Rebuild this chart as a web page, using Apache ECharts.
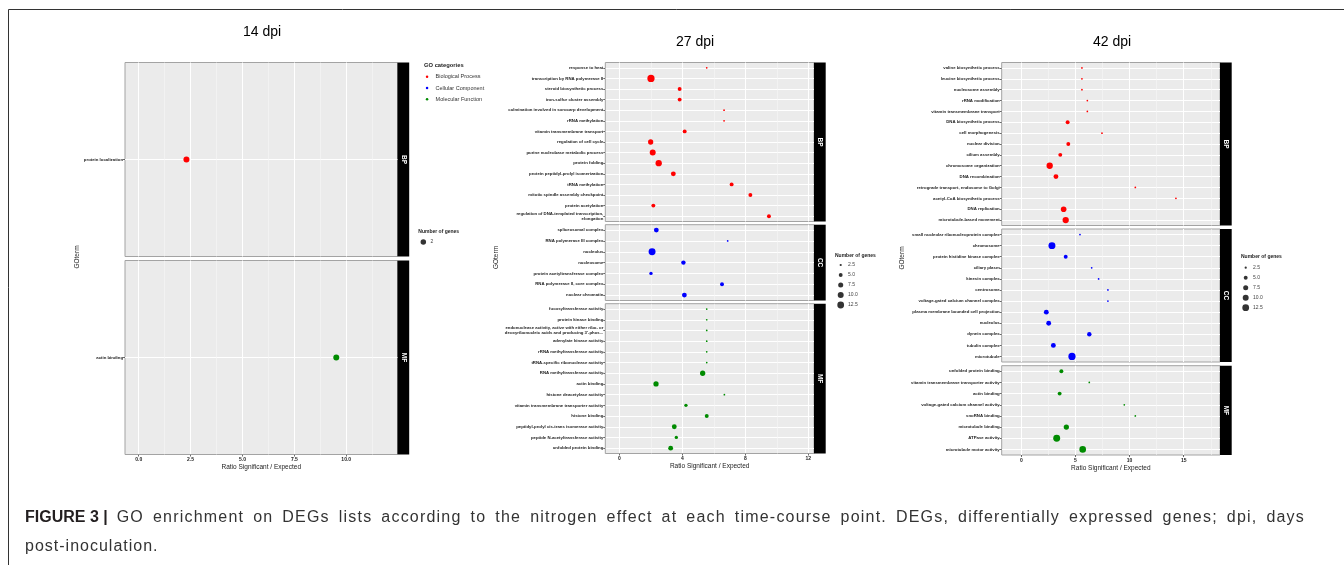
<!DOCTYPE html>
<html><head><meta charset="utf-8">
<script src="https://cdn.jsdelivr.net/npm/echarts@6/dist/echarts.min.js"></script>
<style>
html,body{margin:0;padding:0;background:#fff}
#wrap{position:relative;width:1344px;height:565px;overflow:hidden}
#c{position:absolute;left:0;top:0;width:1344px;height:565px}
.cap{position:absolute;left:25px;font-family:'Liberation Sans',Arial,Helvetica,sans-serif;font-size:16px;color:#333;white-space:nowrap;letter-spacing:1.2px}
.cap b{color:#231F20;letter-spacing:0;display:inline-block}
#cap1{top:508px;width:1280px;text-align:justify;text-align-last:justify;white-space:normal}
#cap2{top:536.5px;letter-spacing:1px}
</style>
</head><body><div id="wrap"><div id="c"></div><div class="cap" id="cap1"></div><div class="cap" id="cap2"></div></div>
<script>
// ---------------- DATA ----------------
// 14 dpi
const d14BpTerms = ['protein localization'];
const d14BpRatio = [2.3];
const d14BpGenes = [2];
const d14MfTerms = ['actin binding'];
const d14MfRatio = [9.52];
const d14MfGenes = [2];
// 27 dpi
const d27BpTerms = ['response to heat','transcription by RNA polymerase II','steroid biosynthetic process','iron-sulfur cluster assembly','culmination involved in sorocarp development','rRNA methylation','vitamin transmembrane transport','regulation of cell cycle','purine nucleobase metabolic process','protein folding','protein peptidyl-prolyl isomerization','tRNA methylation','mitotic spindle assembly checkpoint','protein acetylation','regulation of DNA-templated transcription,\nelongation'];
const d27BpRatio = [5.55, 2.01, 3.83, 3.83, 6.65, 6.65, 4.15, 1.99, 2.12, 2.5, 3.43, 7.13, 8.32, 2.16, 9.5];
const d27BpGenes = [2, 14, 5, 5, 2, 2, 5, 8, 10, 11, 7, 5, 5, 5, 5];
const d27CcTerms = ['spliceosomal complex','RNA polymerase III complex','nucleolus','nucleosome','protein acetyltransferase complex','RNA polymerase II, core complex','nuclear chromatin'];
const d27CcRatio = [2.35, 6.88, 2.08, 4.07, 2.01, 6.52, 4.13];
const d27CcGenes = [7, 2, 13, 6, 4, 5, 7];
const d27MfTerms = ['fucosyltransferase activity','protein kinase binding',"endonuclease activity, active with either ribo- or\ndeoxyribonucleic acids and producing 3'-phos...",'adenylate kinase activity','rRNA methyltransferase activity','tRNA-specific ribonuclease activity','RNA methyltransferase activity','actin binding','histone deacetylase activity','vitamin transmembrane transporter activity','histone binding','peptidyl-prolyl cis-trans isomerase activity','peptide N-acetyltransferase activity','unfolded protein binding'];
const d27MfRatio = [5.55, 5.55, 5.55, 5.55, 5.55, 5.55, 5.29, 2.33, 6.67, 4.23, 5.55, 3.49, 3.62, 3.26];
const d27MfGenes = [2, 2, 2, 2, 2, 2, 8, 8, 2, 4, 5, 7, 4, 7];
// 42 dpi
const d42BpTerms = ['valine biosynthetic process','leucine biosynthetic process','nucleosome assembly','rRNA modification','vitamin transmembrane transport','DNA biosynthetic process','cell morphogenesis','nuclear division','cilium assembly','chromosome organization','DNA recombination','retrograde transport, endosome to Golgi','acetyl-CoA biosynthetic process','DNA replication','microtubule-based movement'];
const d42BpRatio = [5.6, 5.6, 5.6, 6.1, 6.1, 4.28, 7.45, 4.34, 3.6, 2.62, 3.2, 10.53, 14.28, 3.91, 4.1];
const d42BpGenes = [2, 2, 2, 2, 2, 5, 2, 5, 5, 11, 7, 2, 2, 9, 11];
const d42CcTerms = ['small nucleolar ribonucleoprotein complex','chromosome','protein histidine kinase complex','ciliary plasm','kinesin complex','centrosome','voltage-gated calcium channel complex','plasma membrane bounded cell projection','nucleolus','dynein complex','tubulin complex','microtubule'];
const d42CcRatio = [5.42, 2.83, 4.1, 6.5, 7.14, 8.0, 8.0, 2.31, 2.53, 6.28, 2.96, 4.68];
const d42CcGenes = [2, 13, 5, 2, 2, 2, 2, 7, 7, 6, 7, 14];
const d42MfTerms = ['unfolded protein binding','vitamin transmembrane transporter activity','actin binding','voltage-gated calcium channel activity','snoRNA binding','microtubule binding','ATPase activity','microtubule motor activity'];
const d42MfRatio = [3.7, 6.28, 3.54, 9.51, 10.53, 4.16, 3.27, 5.67];
const d42MfGenes = [5, 2, 5, 2, 2, 8, 13, 12];
// ticks
const ticks14 = [0, 2.5, 5, 7.5, 10];
const tickLabels14 = ['0.0', '2.5', '5.0', '7.5', '10.0'];
const minor14 = [1.25, 3.75, 6.25, 8.75, 11.25];
const ticks27 = [0, 4, 8, 12];
const tickLabels27 = ['0', '4', '8', '12'];
const minor27 = [2, 6, 10];
const ticks42 = [0, 5, 10, 15];
const tickLabels42 = ['0', '5', '10', '15'];
const minor42 = [2.5, 7.5, 12.5, 17.5];
// legends
const goCategories = ['Biological Process', 'Cellular Component', 'Molecular Function'];
const sizeLegend14 = [2];
const sizeLegendLabels14 = ['2'];
const sizeLegend = [2.5, 5, 7.5, 10, 12.5];
const sizeLegendLabels = ['2.5', '5.0', '7.5', '10.0', '12.5'];
const panelTitles = ['14 dpi', '27 dpi', '42 dpi'];
const xTitle = 'Ratio Significant / Expected';
const yTitle = 'GOterm';
const captionBold = 'FIGURE 3 |';
const captionLine1 = 'GO enrichment on DEGs lists according to the nitrogen effect at each time-course point. DEGs, differentially expressed genes; dpi, days';
const captionLine2 = 'post-inoculation.';

// ---------------- LAYOUT ----------------
const FONT = "'Liberation Sans', Arial, Helvetica, sans-serif";
const COLORS = {BP: '#FF0000', CC: '#0000FF', MF: '#008B00'};
const CATNAME = {BP: 'Biological Process', CC: 'Cellular Component', MF: 'Molecular Function'};
const sizeFn = n => Math.sqrt(Math.max(4.1 * n - 5.2, 2));
const panels = [
  {left: 125, right: 397.5, min: -0.66, max: 12.47, ticks: ticks14, labels: tickLabels14, minor: minor14, size: n => 6,
   title: [262, 32.5], yt: [77, 257]},
  {left: 605.3, right: 814, min: -0.89, max: 12.36, ticks: ticks27, labels: tickLabels27, minor: minor27, size: sizeFn,
   title: [695, 42], yt: [496.5, 257.5]},
  {left: 1001.7, right: 1220, min: -1.81, max: 18.35, ticks: ticks42, labels: tickLabels42, minor: minor42, size: sizeFn,
   title: [1112, 42], yt: [902.3, 258]}
];
const facets = [
  {p: 0, key: 'BP', terms: d14BpTerms, ratio: d14BpRatio, genes: d14BpGenes, top: 62.5, bottom: 256.5},
  {p: 0, key: 'MF', terms: d14MfTerms, ratio: d14MfRatio, genes: d14MfGenes, top: 260.5, bottom: 454.5, showX: true},
  {p: 1, key: 'BP', terms: d27BpTerms, ratio: d27BpRatio, genes: d27BpGenes, top: 62.5, bottom: 221.5},
  {p: 1, key: 'CC', terms: d27CcTerms, ratio: d27CcRatio, genes: d27CcGenes, top: 224.7, bottom: 300.5},
  {p: 1, key: 'MF', terms: d27MfTerms, ratio: d27MfRatio, genes: d27MfGenes, top: 303.7, bottom: 453.5, showX: true},
  {p: 2, key: 'BP', terms: d42BpTerms, ratio: d42BpRatio, genes: d42BpGenes, top: 62.5, bottom: 225.5},
  {p: 2, key: 'CC', terms: d42CcTerms, ratio: d42CcRatio, genes: d42CcGenes, top: 229, bottom: 362},
  {p: 2, key: 'MF', terms: d42MfTerms, ratio: d42MfRatio, genes: d42MfGenes, top: 365.7, bottom: 455, showX: true}
];

const grid = [], xAxis = [], yAxis = [], series = [], graphic = [];
facets.forEach((f, i) => {
  const p = panels[f.p];
  grid.push({left: p.left, top: f.top, width: p.right - p.left, height: f.bottom - f.top, show: true,
    backgroundColor: '#EBEBEB', borderColor: '#A3A3A3', borderWidth: 1, containLabel: false, outerBoundsMode: 'none'});
  xAxis.push({type: 'value', gridIndex: i, min: p.min, max: p.max, position: 'top',
    axisLine: {show: false, onZero: false}, axisTick: {show: false, customValues: p.minor}, axisLabel: {show: false, customValues: p.minor},
    splitLine: {show: true, lineStyle: {color: '#F6F6F6', width: 0.6}}});
  xAxis.push({type: 'value', gridIndex: i, min: p.min, max: p.max, position: 'bottom',
    axisLine: {show: false, onZero: false},
    axisTick: {show: !!f.showX, customValues: p.ticks, length: 2, lineStyle: {color: '#444', width: 0.8}},
    axisLabel: {show: !!f.showX, customValues: p.ticks, formatter: v => p.labels[p.ticks.indexOf(v)] ?? String(v),
      fontSize: 5, fontWeight: 'bold', color: '#222', margin: 3, fontFamily: FONT},
    splitLine: {show: true, lineStyle: {color: '#FFFFFF', width: 1}},
    name: f.showX ? xTitle : '', nameLocation: 'middle', nameGap: 9.5, nameMoveOverlap: false,
    nameTextStyle: {fontSize: 6.5, color: '#222', fontFamily: FONT}});
  yAxis.push({type: 'category', gridIndex: i, data: f.terms, inverse: true, position: 'left',
    axisLine: {show: false, onZero: false},
    axisTick: {show: true, alignWithLabel: true, interval: 0, length: 2, lineStyle: {color: '#444', width: 0.8}},
    axisLabel: {interval: 0, fontSize: 4.3, fontWeight: 'bold', color: '#222', margin: 2, lineHeight: 5, fontFamily: FONT},
    splitLine: {show: true, alignWithLabel: true, interval: 0, lineStyle: {color: '#FFFFFF', width: 1}}});
  series.push({type: 'scatter', name: CATNAME[f.key], xAxisIndex: 2 * i + 1, yAxisIndex: i, silent: true,
    data: f.terms.map((t, j) => [f.ratio[j], t, f.genes[j]]),
    symbolSize: v => p.size(v[2]), itemStyle: {color: COLORS[f.key], opacity: 1}});
  // strip
  graphic.push({type: 'rect', silent: true, shape: {x: p.right, y: f.top, width: 11.7, height: f.bottom - f.top},
    style: {fill: '#000'}});
  graphic.push({type: 'text', silent: true, x: p.right + 5.85, y: (f.top + f.bottom) / 2, rotation: -Math.PI / 2,
    style: {text: f.key, fill: '#fff', font: 'bold 6.5px ' + FONT, align: 'center', verticalAlign: 'middle'}});
});

// size legends (hidden grids)
const sizeLegends = [
  {vals: sizeLegend14, labels: sizeLegendLabels14, cx: 423.3, cy0: 242, size: () => 5.5, title: [418.3, 232]},
  {vals: sizeLegend, labels: sizeLegendLabels, cx: 840.7, cy0: 265, size: sizeFn, title: [835, 256]},
  {vals: sizeLegend, labels: sizeLegendLabels, cx: 1245.7, cy0: 267.7, size: sizeFn, title: [1241, 256.7]}
];
sizeLegends.forEach(L => {
  const gi = grid.length;
  grid.push({left: L.cx - 3, top: L.cy0 - 5, width: 6, height: 10 * L.vals.length, show: false, containLabel: false, outerBoundsMode: 'none'});
  xAxis.push({type: 'value', gridIndex: gi, min: 0, max: 1, show: false});
  const yi = yAxis.length;
  yAxis.push({type: 'category', gridIndex: gi, data: L.labels, inverse: true, position: 'right',
    axisLine: {show: false, onZero: false}, axisTick: {show: false}, splitLine: {show: false},
    axisLabel: {interval: 0, fontSize: 5, color: '#444', margin: 4.3, align: 'left', fontFamily: FONT}});
  series.push({type: 'scatter', xAxisIndex: xAxis.length - 1, yAxisIndex: yi, silent: true,
    data: L.vals.map((v, j) => [0.5, L.labels[j], v]), symbolSize: v => L.size(v[2]), itemStyle: {color: '#000'}});
  graphic.push({type: 'text', silent: true, x: L.title[0], y: L.title[1],
    style: {text: 'Number of genes', fill: '#222', font: 'bold 5px ' + FONT, align: 'left', verticalAlign: 'middle'}});
});

// titles and axis titles
panels.forEach((p, k) => {
  graphic.push({type: 'text', silent: true, x: p.title[0], y: p.title[1],
    style: {text: panelTitles[k], fill: '#000', font: '14px ' + FONT, align: 'center', verticalAlign: 'middle'}});
  graphic.push({type: 'text', silent: true, x: p.yt[0], y: p.yt[1], rotation: Math.PI / 2,
    style: {text: yTitle, fill: '#222', font: '6.5px ' + FONT, align: 'center', verticalAlign: 'middle'}});
});
graphic.push({type: 'text', silent: true, x: 424, y: 65.3,
  style: {text: 'GO categories', fill: '#222', font: 'bold 5.8px ' + FONT, align: 'left', verticalAlign: 'middle'}});
// frame
graphic.push({type: 'polyline', silent: true, shape: {points: [[1344, 9.5], [8.5, 9.5], [8.5, 565]]},
  style: {stroke: '#333', lineWidth: 1, fill: null}});

// caption (HTML text)
const cap1 = document.getElementById('cap1');
const b = document.createElement('b'); b.textContent = captionBold; cap1.appendChild(b);
cap1.appendChild(document.createTextNode(' ' + captionLine1));
document.getElementById('cap2').textContent = captionLine2;

const chart = echarts.init(document.getElementById('c'), null, {renderer: 'canvas'});
chart.setOption({
  animation: false,
  backgroundColor: 'transparent',
  textStyle: {fontFamily: FONT},
  legend: {data: goCategories.map(n => ({name: n, icon: 'circle'})), orient: 'vertical', left: 425.8, top: 73.7,
    itemWidth: 7, itemHeight: 2.5, itemGap: 5.3, selectedMode: false, padding: 0,
    textStyle: {fontSize: 5.5, color: '#333', lineHeight: 6, fontFamily: FONT}},
  grid, xAxis, yAxis, series, graphic
});
</script></body></html>
